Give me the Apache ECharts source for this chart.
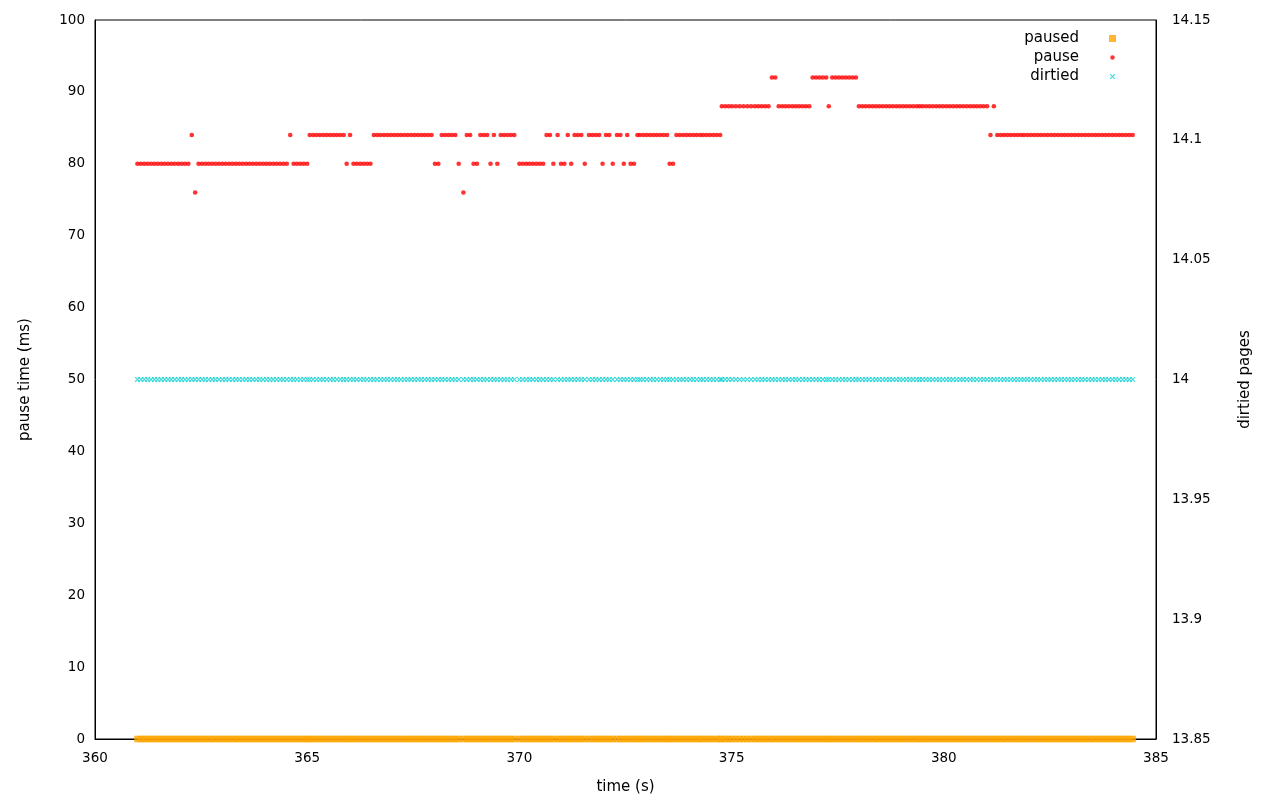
<!DOCTYPE html>
<html><head><meta charset="utf-8">
<script src="https://cdn.jsdelivr.net/npm/echarts@6/dist/echarts.min.js"></script>
<style>html,body{margin:0;padding:0;background:#fff}#c{width:1280px;height:800px}</style>
</head><body><div id="c"></div><script>
// sample times (s) (sampling is slightly irregular)
const times = [
361.00,361.08,361.16,361.24,361.32,361.40,361.48,361.56,361.64,361.72,361.80,361.88,361.96,362.04,362.12,362.20,362.28,362.36,362.44,362.52,362.60,362.68,362.76,362.84,362.92,
363.00,363.08,363.16,363.24,363.32,363.40,363.48,363.56,363.64,363.72,363.80,363.88,363.96,364.04,364.12,364.20,364.28,364.36,364.44,364.52,364.60,364.68,364.76,364.84,364.92,
365.00,365.06,365.14,365.22,365.30,365.38,365.46,365.54,365.62,365.70,365.78,365.86,365.93,366.01,366.09,366.17,366.25,366.33,366.41,366.49,366.57,366.65,366.73,366.81,366.89,
366.97,367.05,367.13,367.21,367.29,367.37,367.45,367.53,367.61,367.69,367.77,367.85,367.93,368.01,368.09,368.17,368.25,368.33,368.41,368.49,368.57,368.68,368.76,368.84,368.92,
369.00,369.08,369.16,369.24,369.32,369.40,369.48,369.56,369.64,369.72,369.80,369.88,370.00,370.08,370.16,370.24,370.32,370.40,370.48,370.56,370.64,370.72,370.80,370.90,370.98,
371.06,371.14,371.22,371.30,371.38,371.46,371.54,371.64,371.72,371.80,371.88,371.96,372.04,372.12,372.20,372.30,372.38,372.46,372.54,372.62,372.70,372.78,372.84,372.92,373.00,
373.08,373.16,373.24,373.32,373.40,373.48,373.54,373.62,373.70,373.78,373.86,373.94,374.02,374.10,374.18,374.26,374.33,374.41,374.49,374.57,374.65,374.73,374.77,374.85,374.93,
375.01,375.10,375.19,375.28,375.37,375.46,375.55,375.63,375.71,375.79,375.87,375.95,376.03,376.11,376.19,376.27,376.35,376.43,376.51,376.59,376.67,376.75,376.83,376.91,376.99,
377.07,377.15,377.23,377.29,377.37,377.45,377.53,377.61,377.69,377.77,377.85,377.93,378.00,378.08,378.16,378.24,378.32,378.40,378.48,378.56,378.64,378.72,378.80,378.88,378.96,
379.04,379.12,379.20,379.28,379.36,379.43,379.50,379.58,379.66,379.74,379.82,379.90,379.98,380.06,380.14,380.22,380.30,380.38,380.46,380.54,380.62,380.70,380.78,380.86,380.94,
381.02,381.10,381.18,381.26,381.34,381.42,381.50,381.58,381.66,381.74,381.82,381.89,381.97,382.05,382.13,382.21,382.29,382.37,382.45,382.53,382.61,382.69,382.77,382.85,382.93,
383.01,383.09,383.17,383.25,383.33,383.41,383.49,383.57,383.65,383.73,383.81,383.89,383.97,384.05,384.13,384.21,384.29,384.37,384.45
];
// paused flag (left axis)
const paused = [
0,0,0,0,0,0,0,0,0,0,0,0,0,0,0,0,0,0,0,0,0,0,0,0,0,
0,0,0,0,0,0,0,0,0,0,0,0,0,0,0,0,0,0,0,0,0,0,0,0,0,
0,0,0,0,0,0,0,0,0,0,0,0,0,0,0,0,0,0,0,0,0,0,0,0,0,
0,0,0,0,0,0,0,0,0,0,0,0,0,0,0,0,0,0,0,0,0,0,0,0,0,
0,0,0,0,0,0,0,0,0,0,0,0,0,0,0,0,0,0,0,0,0,0,0,0,0,
0,0,0,0,0,0,0,0,0,0,0,0,0,0,0,0,0,0,0,0,0,0,0,0,0,
0,0,0,0,0,0,0,0,0,0,0,0,0,0,0,0,0,0,0,0,0,0,0,0,0,
0,0,0,0,0,0,0,0,0,0,0,0,0,0,0,0,0,0,0,0,0,0,0,0,0,
0,0,0,0,0,0,0,0,0,0,0,0,0,0,0,0,0,0,0,0,0,0,0,0,0,
0,0,0,0,0,0,0,0,0,0,0,0,0,0,0,0,0,0,0,0,0,0,0,0,0,
0,0,0,0,0,0,0,0,0,0,0,0,0,0,0,0,0,0,0,0,0,0,0,0,0,
0,0,0,0,0,0,0,0,0,0,0,0,0,0,0,0,0,0,0
];
// pause time (ms, left axis)
const pause = [
80,80,80,80,80,80,80,80,80,80,80,80,80,80,80,80,
84,76,
80,80,80,80,80,80,80,80,80, 80,80,80,80,80,80,80,80,80, 80,80,80,80,80,80,80,80,80,
84,
80,80,80,80,80,
84,84,84,84,84,84,84,84,84,84,84,
80,84,
80,80,80,80,80,80,
84,84,84,84,84,84,84,84,84, 84,84,84,84,84,84,84,84,84,
80,80,
84,84,84,84,84,
80,76,
84,84,80,80,84,84,84,80,84,80,
84,84,84,84,84,
80,80,80,80,80,80,80,80,
84,84,80,84,80,80,84,80,84,84,84,80,84,84,84,84,80,84,84,80,84,84,80,84,80,80,
84,84,84,84,84,84,84,84,84,84,
80,80,
84,84,84,84,84,84,84,84,84,84,84,84,84,84,
88,88,88,88,88,88,88,88,88,88,88,88,88,88,
92,92,
88,88,88,88,88,88,88,88,88,88,
92,92,92,92,92,
88,
92,92,92,92,92,92,92,92,
88,88,88,88,88,88,88,88,88,88, 88,88,88,88,88,88,88,88,88,88, 88,88,88,88,88,88,88,88,88,88, 88,88,88,88,88,88,88,88,88,
84,88,
84,84,84,84,84,84,84,84,84,84, 84,84,84,84,84,84,84,84,84,84, 84,84,84,84,84,84,84,84,84,84, 84,84,84,84,84,84,84,84,84,84, 84
];
// dirtied pages (right axis)
const dirtied = [
14,14,14,14,14,14,14,14,14,14,14,14,14,14,14,14,14,14,14,14,14,14,14,14,14,
14,14,14,14,14,14,14,14,14,14,14,14,14,14,14,14,14,14,14,14,14,14,14,14,14,
14,14,14,14,14,14,14,14,14,14,14,14,14,14,14,14,14,14,14,14,14,14,14,14,14,
14,14,14,14,14,14,14,14,14,14,14,14,14,14,14,14,14,14,14,14,14,14,14,14,14,
14,14,14,14,14,14,14,14,14,14,14,14,14,14,14,14,14,14,14,14,14,14,14,14,14,
14,14,14,14,14,14,14,14,14,14,14,14,14,14,14,14,14,14,14,14,14,14,14,14,14,
14,14,14,14,14,14,14,14,14,14,14,14,14,14,14,14,14,14,14,14,14,14,14,14,14,
14,14,14,14,14,14,14,14,14,14,14,14,14,14,14,14,14,14,14,14,14,14,14,14,14,
14,14,14,14,14,14,14,14,14,14,14,14,14,14,14,14,14,14,14,14,14,14,14,14,14,
14,14,14,14,14,14,14,14,14,14,14,14,14,14,14,14,14,14,14,14,14,14,14,14,14,
14,14,14,14,14,14,14,14,14,14,14,14,14,14,14,14,14,14,14,14,14,14,14,14,14,
14,14,14,14,14,14,14,14,14,14,14,14,14,14,14,14,14,14,14
];
const seriesNames = ['paused', 'pause', 'dirtied'];

const F = 'DejaVu Sans';
const FS = 15;
const TS = 13.5;
const txt = {color:'#000', fontFamily:F, fontSize:FS};
const tick = {color:'#000', fontFamily:F, fontSize:TS};
const crossPath = 'path://M0,1L1,0L4,3L7,0L8,1L5,4L8,7L7,8L4,5L1,8L0,7L3,4Z';
const iconRect = 'path://M0,0M9,9M1,1H8V8H1Z';
const iconCircle = 'path://M0,0M9,9M6.7,4.5A2.2,2.2,0,1,1,2.3,4.5A2.2,2.2,0,1,1,6.7,4.5Z';
const iconCross = 'path://M0,0M9,9M1.8,2.5L2.5,1.8L4.5,3.8L6.5,1.8L7.2,2.5L5.2,4.5L7.2,6.5L6.5,7.2L4.5,5.2L2.5,7.2L1.8,6.5L3.8,4.5Z';

function pts(ys){ return times.map((t,i)=>[t, ys[i]]); }

const axisCommon = {
  axisLine:{show:true, lineStyle:{color:'#000', width:1}},
  axisTick:{show:false},
  splitLine:{show:false}
};

const chart = echarts.init(document.getElementById('c'), null, {renderer:'canvas'});
chart.setOption({
  animation:false,
  backgroundColor:'#fff',
  grid:{left:95, right:124, top:20, bottom:61, show:true, borderColor:'#000', borderWidth:1, backgroundColor:'transparent'},
  xAxis:[
    Object.assign({type:'value', min:360, max:385, interval:5, position:'bottom',
      name:'time (s)', nameLocation:'middle', nameGap:41, nameTextStyle:txt,
      axisLabel:Object.assign({margin:12}, tick)}, axisCommon)
  ],
  yAxis:[
    Object.assign({type:'value', min:0, max:100, interval:10, position:'left',
      name:'pause time (ms)', nameLocation:'middle', nameRotate:90, nameGap:62, nameTextStyle:txt,
      axisLabel:Object.assign({margin:10}, tick)}, axisCommon),
    Object.assign({type:'value', min:13.85, max:14.15, interval:0.05, position:'right',
      name:'dirtied pages', nameLocation:'middle', nameRotate:90, nameGap:82, nameTextStyle:txt,
      axisLabel:Object.assign({margin:16, formatter:v=>String(+(+v).toFixed(2))}, tick)}, axisCommon)
  ],
  legend:{
    orient:'vertical', right:158, top:24, align:'right', selectedMode:false,
    itemWidth:9, itemHeight:9, itemGap:0,
    textStyle:Object.assign({lineHeight:19, padding:[0,24,0,0]}, txt),
    data:[{name:seriesNames[0], icon:iconRect}, {name:seriesNames[1], icon:iconCircle}, {name:seriesNames[2], icon:iconCross}]
  },
  series:[
    {name:seriesNames[0], type:'scatter', xAxisIndex:0, yAxisIndex:0, data:pts(paused), clip:false,
      symbol:'rect', symbolSize:6.5, itemStyle:{color:'#FFA500'}, emphasis:{disabled:true}},
    {name:seriesNames[1], type:'scatter', xAxisIndex:0, yAxisIndex:0, data:pts(pause), clip:false,
      symbol:'circle', symbolSize:4.6, itemStyle:{color:'#FF0000'}, emphasis:{disabled:true}},
    {name:seriesNames[2], type:'scatter', xAxisIndex:0, yAxisIndex:1, data:pts(dirtied), clip:false,
      symbol:crossPath, symbolSize:5.5, itemStyle:{color:'#00CED1'}, emphasis:{disabled:true}}
  ]
});
</script></body></html>
